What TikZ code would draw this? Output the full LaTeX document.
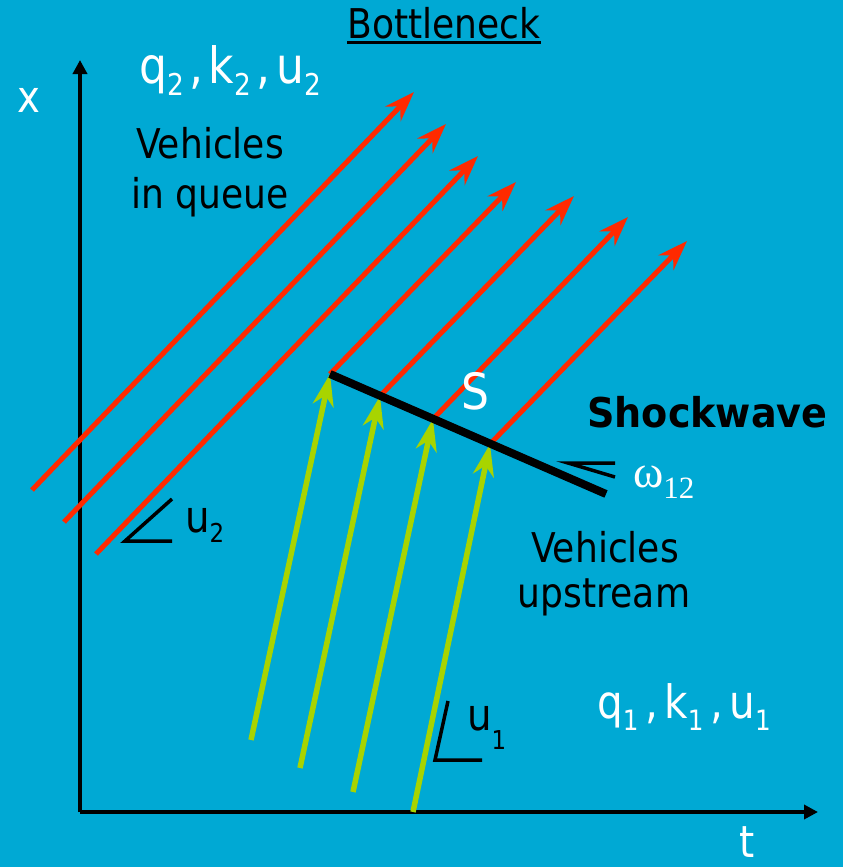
\documentclass[tikz,border=0pt]{standalone}
\usepackage{fontspec}
\setmainfont{DejaVu Sans}[FakeStretch=0.88]
\newfontfamily\shockfont{DejaVu Sans}[FakeStretch=0.93]
\newfontfamily\greekfont{Liberation Serif}
\usetikzlibrary{arrows.meta}
\definecolor{sky}{HTML}{00A9D4}
\definecolor{queuered}{HTML}{FF2A00}
\definecolor{flowgreen}{HTML}{A8D400}
\newcommand{\fsz}[1]{\fontsize{#1}{#1}\selectfont}
\newcommand{\lowsub}[3]{\raisebox{-#2pt}{\fsz{#1}#3}}
\newcommand{\cma}[1]{\hspace{#1pt},\hspace{#1pt}}

\begin{document}
\begin{tikzpicture}[
  x=1pt,y=-1pt,
  lbl/.style={inner sep=0pt,anchor=base},
  lblw/.style={inner sep=0pt,anchor=base west},
  axis/.style={line width=3.5pt,-{Triangle[length=14pt,width=14pt]}},
  redarr/.style={queuered,line width=5pt,-{Stealth[length=30pt,width=21pt,inset=10pt]}},
  greenarr/.style={flowgreen,line width=5.5pt,-{Stealth[length=32pt,width=21pt,inset=10pt]}},
  slope/.style={line width=3.5pt}
]
  \fill[sky] (0,0) rectangle (843,867);
  \coordinate (o) at (80,812); \coordinate (xend) at (80,60); \coordinate (tend) at (818,812);
  \draw[axis] (o) -- (xend); \draw[axis] (o) -- (tend);

  \coordinate (s1) at (330,374); \coordinate (s2) at (380,396); \coordinate (s3) at (433,419); \coordinate (s4) at (490,444);
  \coordinate (w) at (606,494);
  \coordinate (r1) at (32,490); \coordinate (r2) at (64,522); \coordinate (r3) at (96,554);
  \coordinate (t1) at (414,92); \coordinate (t2) at (446,124); \coordinate (t3) at (478,156);
  \coordinate (t4) at (516,182); \coordinate (t5) at (574,196); \coordinate (t6) at (628,217); \coordinate (t7) at (687,241);
  \coordinate (g1) at (251,740); \coordinate (g2) at (300,768); \coordinate (g3) at (353,792); \coordinate (g4) at (413,812);

  \draw[redarr] (r1) -- (t1); \draw[redarr] (r2) -- (t2); \draw[redarr] (r3) -- (t3);
  \draw[redarr] (s1) -- (t4); \draw[redarr] (s2) -- (t5); \draw[redarr] (s3) -- (t6); \draw[redarr] (s4) -- (t7);
  \foreach \i in {1,...,4} \draw[greenarr] (g\i) -- (s\i);
  \draw[line width=8pt] (s1) -- (w);

  \draw[slope] (172,499) -- (125,541) -- (172,541);
  \draw[slope] (448,701) -- (435,760) -- (482,760);
  \draw[slope] (615,463) -- (568,463) -- (615,477);

  \node[lbl,font=\fsz{41}] (btl) at (444,39) {Bottleneck};
  \draw[line width=3pt] ([yshift=-4pt]btl.base west) -- ([yshift=-4pt]btl.base east);
  \node[lbl,white,font=\fsz{44}] (xlab) at (29,112) {x};
  \node[lbl,white,font=\fsz{44}] (tlab) at (747,857) {t};
  \node[lblw,white,font=\fsz{50}] (q2) at (139,83) {q\lowsub{30}{12}{2}\cma{5.5}k\lowsub{30}{12}{2}\cma{5.5}u\lowsub{30}{12}{2}};
  \node[lbl,font=\fsz{41}] (queue) at (210,158) {Vehicles};
  \node[lbl,font=\fsz{41}] (queueb) at (210,208) {in queue};
  \node[lbl,white,font=\fsz{50}] (S) at (475,409) {S};
  \node[lblw,font=\shockfont\bfseries\fsz{41}] (shock) at (587,427) {Shockwave};
  \node[lblw,white,font=\greekfont\fsz{46}] (om) at (633,487) {ω\lowsub{31}{11}{12}};
  \node[lbl,font=\fsz{41}] (up) at (605,562) {Vehicles};
  \node[lbl,font=\fsz{41}] (upb) at (604,607) {upstream};
  \node[lblw,font=\fsz{44}] (u2) at (185,532) {u\lowsub{26}{10}{2}};
  \node[lblw,font=\fsz{44}] (u1) at (467,730) {u\lowsub{26}{19}{1}};
  \node[lblw,white,font=\fsz{46}] (q1) at (597,718) {q\lowsub{28}{12}{1}\cma{6.5}k\lowsub{28}{12}{1}\cma{6.5}u\lowsub{28}{12}{1}};
\end{tikzpicture}
\end{document}
